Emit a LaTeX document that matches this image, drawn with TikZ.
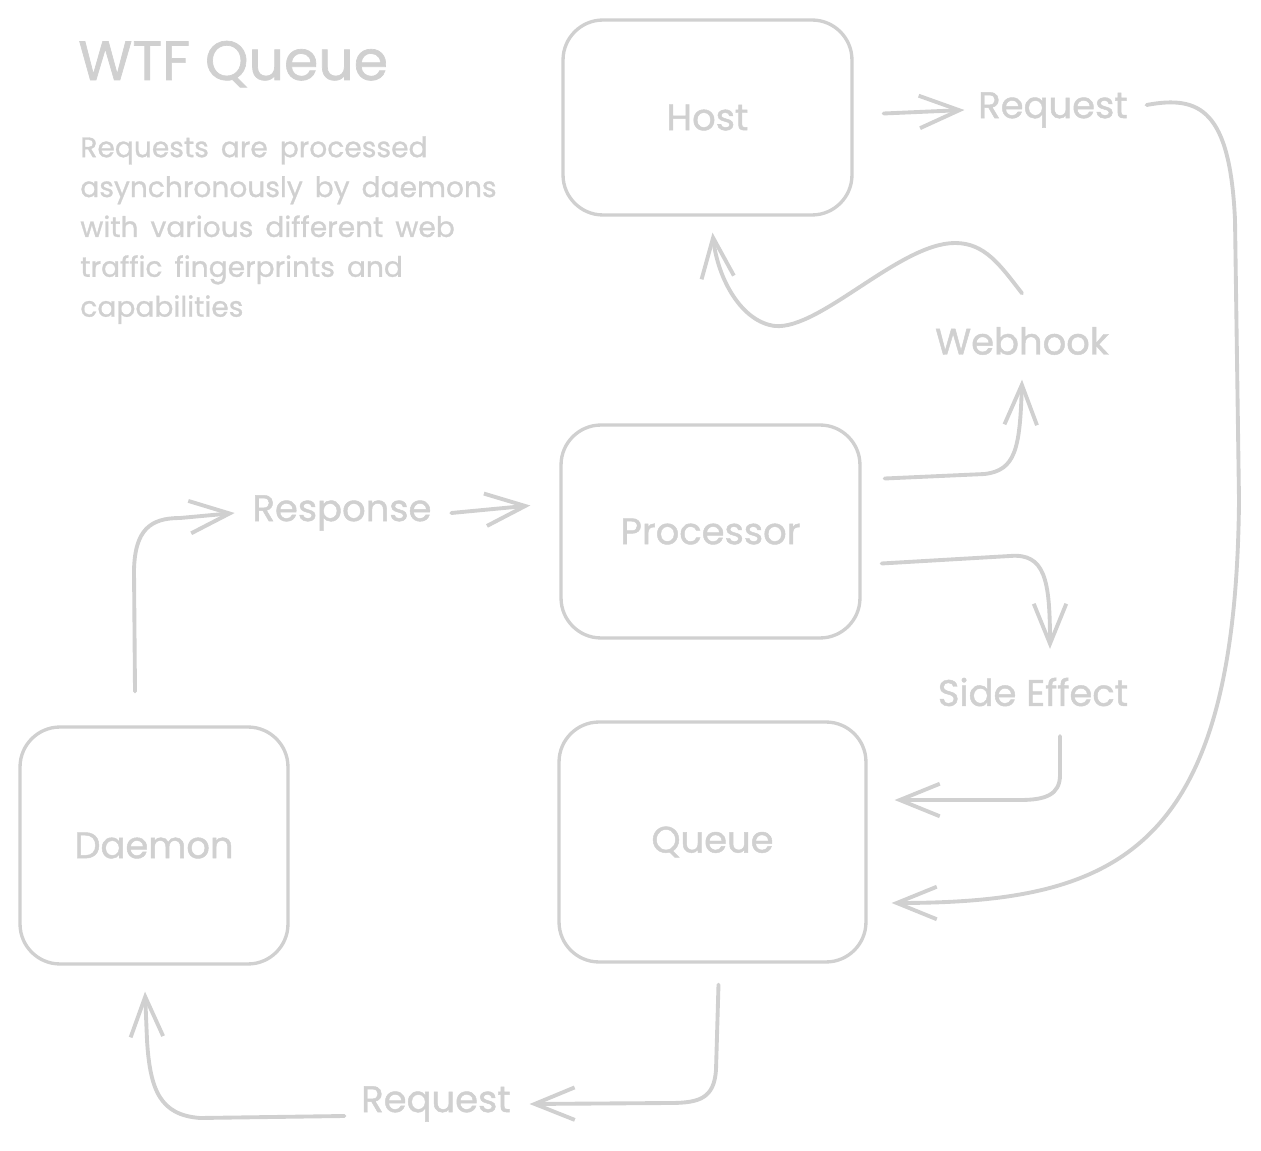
\documentclass[tikz,border=0pt]{standalone}
\usepackage{fontspec}
\setmainfont{Poppins}
\newfontfamily\sketchfont{Poppins}[FakeBold=1.2]
\newfontfamily\notefont{Poppins}[FakeBold=1.0, WordSpace=1.6]
\usetikzlibrary{arrows.meta, positioning, calc}
\definecolor{sketch}{RGB}{208,208,208}

\begin{document}
\begin{tikzpicture}[
    x=0.02cm, y=0.02cm,
    >={Straight Barb[length=0.8cm, width=0.65cm]},
    box/.style={draw=sketch, line width=1.9pt, rounded corners=0.8cm,
                text=sketch, font=\sketchfont\fontsize{21}{25}\selectfont},
    lbl/.style={text=sketch, font=\sketchfont\fontsize{21}{25}\selectfont, inner sep=2pt},
    flow/.style={->, draw=sketch, line width=2.2pt, line cap=round, line join=round},
]
\useasboundingbox (0,0) rectangle (1261,-1151);

% ============================================================
% TITLE AND NOTE
% ============================================================
\node[text=sketch, font=\sketchfont\fontsize{31.5}{36}\selectfont, anchor=base west,
      inner sep=0pt] (title) at (78,-80) {WTF Queue};

\node[text=sketch, font=\notefont\fontsize{16}{22.7}\selectfont, anchor=north west,
      align=left, inner sep=0pt] (note) at (80,-136)
    {Requests are processed\\asynchronously by daemons\\with various different web\\traffic fingerprints and\\capabilities};

% ============================================================
% BOXES
% ============================================================
\node[box, minimum width=5.78cm, minimum height=3.9cm] (host) at (707.5,-117.5) {Host};
\node[box, minimum width=5.98cm, minimum height=4.26cm] (processor) at (710.5,-531.5) {Processor};
\node[box, minimum width=6.14cm, minimum height=4.8cm] (queue) at (712.5,-842) {Queue};
\node[box, minimum width=5.36cm, minimum height=4.74cm] (daemon) at (154,-845.5) {Daemon};

% --- Free labels ---
\node[lbl] (reqtop) at (1053,-110) {Request};
\node[lbl] (webhook) at (1022,-341) {Webhook};
\node[lbl] (response) at (342,-513) {Response};
\node[lbl] (sideeffect) at (1033,-692) {Side Effect};
\node[lbl] (reqbot) at (436,-1104) {Request};

% ============================================================
% CONNECTORS
% ============================================================

% Host -> Request -> Queue
\draw[flow] ([xshift=0.6cm,yshift=0.08cm]host.east) -- ([xshift=-0.2cm]reqtop.west);
\draw[flow] ([xshift=0.3cm,yshift=0.1cm]reqtop.east)
    .. controls (1200,-95) and (1230,-110) .. (1235,-220) -- (1239,-500)
    .. controls (1236,-850) and (1120,-903) .. ([xshift=0.48cm,yshift=-1.22cm]queue.east);

% Webhook -> Host
\draw[flow] ([yshift=0.6cm]webhook.north)
    .. controls (1000,-265) and (985,-243) .. (955,-243)
    .. controls (900,-243) and (820,-330) .. (775,-326)
    .. controls (742,-322) and (718,-280) .. ([xshift=0.1cm,yshift=-0.32cm]host.south);

% Processor -> Webhook, Processor -> Side Effect
\draw[flow] ([xshift=0.46cm,yshift=1.06cm]processor.east) -- (985,-474)
    .. controls (1015,-470) and (1020,-450) .. ([yshift=-0.42cm]webhook.south);
\draw[flow] ([xshift=0.4cm,yshift=-0.64cm]processor.east) -- (1010,-556)
    .. controls (1045,-553) and (1050,-580) .. ([xshift=0.34cm,yshift=0.5cm]sideeffect.north);

% Side Effect -> Queue
\draw[flow] ([xshift=0.54cm,yshift=-0.52cm]sideeffect.south) -- (1060,-775)
    .. controls (1060,-795) and (1045,-800) .. (1020,-800)
    -- ([xshift=0.54cm,yshift=0.84cm]queue.east);

% Queue -> Request -> Daemon
\draw[flow] ([xshift=0.12cm,yshift=-0.42cm]queue.south) -- (716,-1070)
    .. controls (714,-1098) and (700,-1103) .. (670,-1103)
    -- ([xshift=0.3cm]reqbot.east);
\draw[flow] ([xshift=-0.26cm,yshift=-0.24cm]reqbot.west) -- (200,-1118)
    .. controls (160,-1115) and (150,-1090) .. (147,-1040)
    -- ([xshift=-0.18cm,yshift=-0.52cm]daemon.south);

% Daemon -> Response -> Processor
\draw[flow] ([xshift=-0.38cm,yshift=0.68cm]daemon.north) -- (134,-570)
    .. controls (135,-530) and (150,-518) .. (180,-518)
    -- ([xshift=-0.28cm]response.west);
\draw[flow] ([xshift=0.32cm]response.east) -- ([xshift=-0.58cm,yshift=0.52cm]processor.west);

\end{tikzpicture}
\end{document}
